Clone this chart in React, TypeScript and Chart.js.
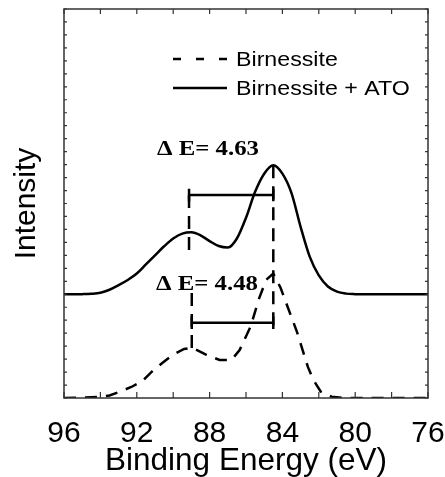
import React, { useEffect, useRef } from "react";
import { Chart, registerables } from "chart.js";

Chart.register(...registerables);

// ---- data ----
const SERIES_LABELS = ["Birnessite", "Birnessite + ATO"];

// Birnessite + ATO (solid curve)
const ATO_ENERGY = [
  96, 95.5, 95, 94.5, 94, 93.5, 93, 92.5, 92, 91.5, 91, 90.5, 90, 89.5, 89, 88.5,
  88, 87.5, 87, 86.5, 86, 85.5, 85, 84.5, 84, 83.5, 83, 82.5, 82, 81.5, 81, 80.5,
  80, 79.5, 79, 78.5, 78, 77.5, 77, 76.5, 76,
];
const ATO_INTENSITY = [
  8.0, 8.0, 8.01, 8.04, 8.12, 8.35, 8.7, 9.1, 9.6, 10.3, 11.0, 11.7, 12.3, 12.68,
  12.78, 12.55, 12.1, 11.72, 11.6, 12.3, 13.9, 15.9, 17.3, 17.95, 17.3, 15.8, 13.2,
  10.9, 9.45, 8.6, 8.2, 8.05, 8.01, 8.0, 8.0, 8.0, 8.0, 8.0, 8.0, 8.0, 8.0,
];

// Birnessite (dashed curve)
const BIR_ENERGY = [
  96, 95, 94, 93.5, 93, 92.3, 91.7, 91.2, 90.6, 90, 89.4, 88.97, 88.2, 87.45, 86.8,
  86.35, 85.75, 85.3, 84.9, 84.5, 84.1, 83.6, 83.2, 82.6, 82.3, 81.9, 81.3, 80.6, 76,
];
const BIR_INTENSITY = [
  0, 0.02, 0.1, 0.2, 0.45, 0.85, 1.3, 2.0, 2.7, 3.35, 3.78, 3.88, 3.35, 2.93, 2.93,
  3.7, 5.5, 7.6, 9.1, 9.6, 8.5, 6.6, 5.1, 2.4, 1.4, 0.5, 0.1, 0, 0,
];

// peak-separation annotations
const DELTA_LABELS = ["\u0394 E= 4.63", "\u0394 E= 4.48"];
const ATO_MARKS = [89.13, 84.5];
const BIR_MARKS = [88.98, 84.5];
const BAR_LEVELS = [15.65, 5.8];
// vertical guide lines: [energy, from, to]
const GUIDE_ENERGY = [89.13, 84.5, 88.98];
const GUIDE_FROM = [15.65, 17.95, 8.1];
const GUIDE_TO = [11.3, 5.3, 3.3];
// label anchors (energy, intensity) for the ΔE texts
const LABEL_ENERGY = [90.89, 90.95];
const LABEL_LEVEL = [18.74, 8.33];

const X_MIN = 76;
const X_MAX = 96;
const Y_MIN = 0;
const Y_MAX = 30;

const SANS = "'Liberation Sans', Arial, sans-serif";
const SERIF = "'Liberation Serif', 'Times New Roman', serif";

const zip = (xs: number[], ys: number[]) => xs.map((x, i) => ({ x, y: ys[i] }));

function barPath(left: number, right: number, level: number) {
  const cap = 0.48;
  return [
    { x: left, y: level + cap },
    { x: left, y: level - cap },
    { x: left, y: level },
    { x: right, y: level },
    { x: right, y: level + cap },
    { x: right, y: level - cap },
  ];
}

const decorPlugin = {
  id: "decor",
  afterDatasetsDraw(chart: any) {
    const { ctx, chartArea: a, scales } = chart;
    const x = scales.x;
    const y = scales.y;
    ctx.save();
    // frame
    ctx.strokeStyle = "#333";
    ctx.lineWidth = 1.5;
    ctx.setLineDash([]);
    ctx.strokeRect(a.left, a.top, a.right - a.left, a.bottom - a.top);
    // inward ticks
    ctx.lineWidth = 1.2;
    ctx.beginPath();
    for (const t of x.ticks) {
      const px = x.getPixelForValue(t.value);
      ctx.moveTo(px, a.bottom);
      ctx.lineTo(px, a.bottom - 6);
      ctx.moveTo(px, a.top);
      ctx.lineTo(px, a.top + 5);
    }
    for (const t of y.ticks) {
      const py = y.getPixelForValue(t.value);
      ctx.moveTo(a.left, py);
      ctx.lineTo(a.left + 3, py);
      ctx.moveTo(a.right, py);
      ctx.lineTo(a.right - 3, py);
    }
    ctx.stroke();

    // legend (inside plot)
    const ds = chart.data.datasets;
    const lx0 = a.left + 109;
    const lx1 = a.left + 163;
    const rows = [a.top + 50, a.top + 79];
    ctx.font = `20px ${SANS}`;
    ctx.fillStyle = "#000";
    ctx.textBaseline = "middle";
    ctx.textAlign = "left";
    for (let i = 0; i < 2; i++) {
      const d = ds[i];
      ctx.strokeStyle = d.borderColor;
      ctx.lineWidth = d.borderWidth;
      ctx.setLineDash(i === 0 ? [8, 15] : []);
      ctx.beginPath();
      ctx.moveTo(lx0, rows[i]);
      ctx.lineTo(lx1, rows[i]);
      ctx.stroke();
      ctx.setLineDash([]);
      ctx.save();
      ctx.translate(lx1 + 9, rows[i] + 1);
      ctx.scale(1.16, 1);
      ctx.fillText(d.label, 0, 0);
      ctx.restore();
    }

    // ΔE labels
    ctx.font = `bold 20px ${SERIF}`;
    ctx.textBaseline = "alphabetic";
    for (let i = 0; i < DELTA_LABELS.length; i++) {
      const px = x.getPixelForValue(LABEL_ENERGY[i]);
      const py = y.getPixelForValue(LABEL_LEVEL[i]);
      ctx.save();
      ctx.translate(px, py);
      ctx.scale(1.24, 1);
      ctx.fillText(DELTA_LABELS[i], 0, 0);
      ctx.restore();
    }
    ctx.restore();
  },
};

export default function App() {
  const ref = useRef<HTMLCanvasElement>(null);
  useEffect(() => {
    document.body.style.margin = "0";
    const lineBase = {
      showLine: true,
      pointRadius: 0,
      borderColor: "#000",
      backgroundColor: "#000",
      fill: false,
    };
    const datasets: any[] = [
      {
        ...lineBase,
        label: SERIES_LABELS[0],
        data: zip(BIR_ENERGY, BIR_INTENSITY),
        borderWidth: 2.5,
        borderDash: [12, 9],
        tension: 0,
      },
      {
        ...lineBase,
        label: SERIES_LABELS[1],
        data: zip(ATO_ENERGY, ATO_INTENSITY),
        borderWidth: 2.5,
        cubicInterpolationMode: "monotone",
      },
      {
        ...lineBase,
        label: "bar-ato",
        data: barPath(ATO_MARKS[0], ATO_MARKS[1], BAR_LEVELS[0]),
        borderWidth: 2.5,
        tension: 0,
      },
      {
        ...lineBase,
        label: "bar-bir",
        data: barPath(BIR_MARKS[0], BIR_MARKS[1], BAR_LEVELS[1]),
        borderWidth: 2.5,
        tension: 0,
      },
      ...GUIDE_ENERGY.map((e, i) => ({
        ...lineBase,
        label: "guide-" + i,
        data: [
          { x: e, y: GUIDE_FROM[i] },
          { x: e, y: GUIDE_TO[i] },
        ],
        borderWidth: 2.5,
        borderDash: [13, 8],
        tension: 0,
      })),
    ];

    const chart = new Chart(ref.current as HTMLCanvasElement, {
      type: "scatter",
      data: { datasets },
      options: {
        responsive: false,
        animation: false,
        layout: { padding: { top: 9, right: 17, left: 0, bottom: 0 } },
        plugins: { legend: { display: false }, tooltip: { enabled: false } },
        scales: {
          x: {
            type: "linear",
            min: X_MIN,
            max: X_MAX,
            reverse: true,
            grid: { display: false },
            border: { display: false },
            ticks: {
              stepSize: 2,
              autoSkip: false,
              maxRotation: 0,
              padding: 10,
              color: "#000",
              font: { family: SANS, size: 30 },
              callback: (v: any) => (Number(v) % 4 === 0 ? String(v) : ""),
            },
            title: {
              display: true,
              text: "Binding Energy (eV)",
              color: "#000",
              font: { family: SANS, size: 31.5, lineHeight: 1 },
              padding: { top: 0, bottom: 0 },
            },
            afterFit: (s: any) => {
              s.height = 79;
              s.paddingLeft = 0;
              s.paddingRight = 0;
            },
          },
          y: {
            type: "linear",
            min: Y_MIN,
            max: Y_MAX,
            grid: { display: false },
            border: { display: false },
            ticks: { display: false, stepSize: 1 },
            title: {
              display: true,
              text: "Intensity",
              color: "#000",
              font: { family: SANS, size: 30, lineHeight: 1.2 },
              padding: { top: 8.5, bottom: 0 },
            },
            afterFit: (s: any) => {
              s.width = 64;
              s.paddingTop = 0;
              s.paddingBottom = 0;
            },
          },
        },
      } as any,
      plugins: [decorPlugin],
    });
    return () => chart.destroy();
  }, []);
  return (
    <canvas
      ref={ref}
      width={445}
      height={477}
      style={{ display: "block", width: 445, height: 477 }}
    />
  );
}
